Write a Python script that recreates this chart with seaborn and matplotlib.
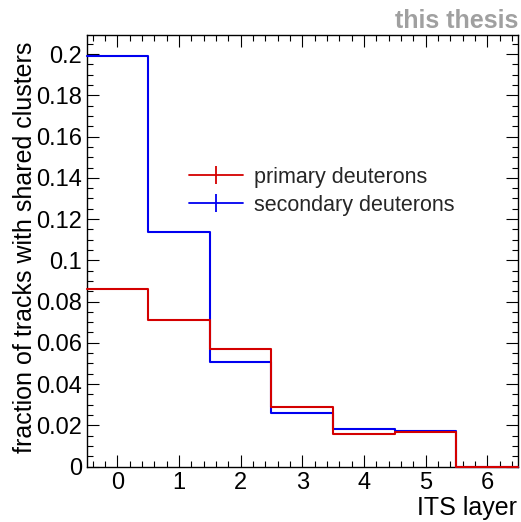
import numpy as np
import pandas as pd
import matplotlib
matplotlib.use("Agg")
import matplotlib.pyplot as plt
from matplotlib.lines import Line2D
from matplotlib.ticker import MultipleLocator, FuncFormatter
import seaborn as sns

# ---- data ----
layers = [0, 1, 2, 3, 4, 5, 6]
primary = [0.0859, 0.0709, 0.0568, 0.0290, 0.0157, 0.0166, 0.0]
secondary = [0.1990, 0.1136, 0.0505, 0.0261, 0.0180, 0.0170, 0.0]
series_names = ["primary deuterons", "secondary deuterons"]
xlabel = "ITS layer"
ylabel = "fraction of tracks with shared clusters"
watermark = "this thesis"

sns.set_style("white")
plt.rcParams["font.family"] = ["Liberation Sans", "DejaVu Sans"]

W, H = 521, 522
fig = plt.figure(figsize=(W / 100, H / 100), dpi=100)
ax = fig.add_axes([86.5 / W, 1 - 466.5 / H, (518 - 86.5) / W, (466.5 - 35) / H])

edges = [-0.5, 0.5, 1.5, 2.5, 3.5, 4.5, 5.5, 6.5]
red = "#d40000"
blue = "#0000f0"

df_sec = pd.DataFrame({"layer": layers, "fraction": secondary})
df_pri = pd.DataFrame({"layer": layers, "fraction": primary})

sns.histplot(data=df_sec, x="layer", weights="fraction", bins=edges, element="step", fill=False,
             color=blue, linewidth=1.5, ax=ax, clip_on=False, zorder=3)
sns.histplot(data=df_pri, x="layer", weights="fraction", bins=edges, element="step", fill=False,
             color=red, linewidth=1.5, ax=ax, clip_on=False, zorder=3.1)

ax.set_xlim(-0.5, 6.5)
ax.set_ylim(0, 0.2093)
ax.set_xlabel("")
ax.set_ylabel("")

ax.xaxis.set_major_locator(MultipleLocator(1))
ax.xaxis.set_minor_locator(MultipleLocator(0.2))
ax.yaxis.set_major_locator(MultipleLocator(0.02))
ax.yaxis.set_minor_locator(MultipleLocator(0.005))
ax.yaxis.set_major_formatter(FuncFormatter(lambda v, p: "%g" % round(v, 4)))

for s in ax.spines.values():
    s.set_color("black")
    s.set_linewidth(1.0)

ax.tick_params(which="both", direction="in", top=True, right=True,
               bottom=True, left=True, color="black", width=0.8,
               labelsize=17, labelcolor="black")
ax.tick_params(which="major", length=8.5)
ax.tick_params(which="minor", length=4)
ax.tick_params(axis="x", which="major", pad=4)
ax.tick_params(axis="y", which="major", pad=3)

# axis titles (ROOT style: right / top aligned)
fig.text(517 / W, 1 - 508 / H, xlabel, ha="right", va="center", fontsize=18, color="black")
fig.text(25 / W, 1 - 42 / H, ylabel, ha="center", va="top", rotation=90, fontsize=18, color="black")
fig.text(518 / W, 1 - 28 / H, watermark, ha="right", va="baseline", fontsize=18,
         fontweight="bold", color="#a0a0a0")

handles = [
    Line2D([], [], color=red, linewidth=1.3, marker="|", markersize=13, markeredgewidth=1.3),
    Line2D([], [], color=blue, linewidth=1.3, marker="|", markersize=13, markeredgewidth=1.3),
]
fig.legend(handles, series_names, loc="upper left", bbox_to_anchor=(189 / W, 1 - 167 / H),
           frameon=False, fontsize=15.5, handlelength=2.5, handletextpad=0.5,
           labelspacing=0.32, borderpad=0, borderaxespad=0)

fig.savefig("out.png", dpi=100)
